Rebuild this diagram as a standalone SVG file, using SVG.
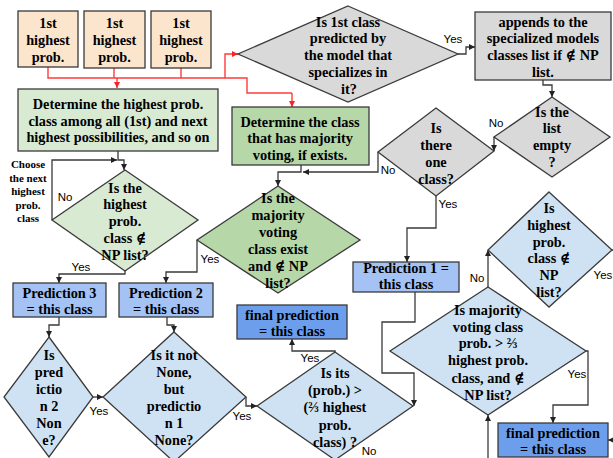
<svg xmlns="http://www.w3.org/2000/svg" width="613" height="458" viewBox="0 0 613 458">
<defs>
<style>
.t{font-family:"Liberation Serif","DejaVu Serif",serif;font-weight:bold;font-size:14.3px;text-anchor:middle;fill:#000}
.s{font-family:"Liberation Serif","DejaVu Serif",serif;font-weight:bold;font-size:11px;text-anchor:middle;fill:#000}
.l{font-family:"Liberation Sans",Arial,sans-serif;font-size:11.5px;text-anchor:middle;fill:#000}
.sh{stroke:#3a3a3a;stroke-width:1.3}
.peach{fill:#fce5cd}
.lg{fill:#d9ead3}
.mg{fill:#b6d7a8}
.gr{fill:#d9d9d9}
.lb{fill:#cfe2f3}
.pb{fill:#a4c2f4}
.fb{fill:#6d9eeb}
.c{fill:none;stroke:#3a3a3a;stroke-width:1.3;marker-end:url(#a)}
.cn{fill:none;stroke:#3a3a3a;stroke-width:1.3}
.r{fill:none;stroke:#ff3b3b;stroke-width:1.4;marker-end:url(#ar)}
.rn{fill:none;stroke:#ff3b3b;stroke-width:1.4}
</style>
<marker id="a" viewBox="0 0 8 8" refX="8" refY="4" markerWidth="6" markerHeight="6" markerUnits="userSpaceOnUse" orient="auto"><path d="M0,0L8,4L0,8z" fill="#222"/></marker>
<marker id="ar" viewBox="0 0 8 8" refX="8" refY="4" markerWidth="6" markerHeight="6" markerUnits="userSpaceOnUse" orient="auto"><path d="M0,0L8,4L0,8z" fill="#ff2020"/></marker>
</defs>
<rect width="613" height="458" fill="#fff"/>

<g id="connectors">
<path class="rn" d="M48,67V78H247V93H292"/>
<path class="r" d="M292,93V107"/>
<path class="rn" d="M114,68V78"/>
<path class="rn" d="M181,68V78"/>
<path class="r" d="M117,78V88"/>
<path class="r" d="M225,78V54H238"/>
<path class="c" d="M458,54H466V47H475"/>
<path class="c" d="M543,80V85H552V97"/>
<path class="c" d="M494,137V151"/>
<path class="c" d="M378,152V172H303"/>
<path class="c" d="M301,165V172H278V186"/>
<path class="c" d="M436,196V228H407V262"/>
<path class="c" d="M52,220V160H117"/>
<path class="c" d="M118,151V160H124V170"/>
<path class="c" d="M125,271V274H59V283"/>
<path class="c" d="M197,240V272H166V283"/>
<path class="c" d="M59,317V325H49V337"/>
<path class="c" d="M167,317V325H174V332"/>
<path class="c" d="M93,397H103"/>
<path class="c" d="M246,397V406H257"/>
<path class="c" d="M335,352V351H292V339"/>
<path class="c" d="M415,292V322H382V373H414V406"/>
<path class="c" d="M488,287V250"/>
<path class="cn" d="M612,250H613"/>
<path class="c" d="M586,351H588V405H553V423"/>
<path class="c" d="M488,458V415"/>
<path class="c" d="M613,440H608"/>
</g>

<g id="n1"><rect class="peach sh" x="18" y="11" width="60" height="56"/><text class="t" x="48" y="28">1st</text><text class="t" x="48" y="45">highest</text><text class="t" x="48" y="62">prob.</text></g>
<g id="n2"><rect class="peach sh" x="84" y="11" width="61" height="57"/><text class="t" x="114.5" y="28">1st</text><text class="t" x="114.5" y="45">highest</text><text class="t" x="114.5" y="62">prob.</text></g>
<g id="n3"><rect class="peach sh" x="151" y="11" width="60" height="57"/><text class="t" x="181" y="28">1st</text><text class="t" x="181" y="45">highest</text><text class="t" x="181" y="62">prob.</text></g>

<g id="specialized"><polygon class="gr sh" points="348,6 458,54 348,102 238,54"/>
<text class="t" x="348" y="27">Is 1st class</text><text class="t" x="348" y="43">predicted by</text><text class="t" x="348" y="60">the model that</text><text class="t" x="348" y="77">specializes in</text><text class="t" x="349" y="94">it?</text></g>

<g id="appends"><rect class="gr sh" x="475" y="12" width="136" height="68"/>
<text class="t" x="543" y="27">appends to the</text><text class="t" x="543" y="43">specialized models</text><text class="t" x="543" y="60">classes list if ∉ NP</text><text class="t" x="543" y="77">list.</text></g>

<g id="listempty"><polygon class="gr sh" points="552,97 610,137 552,177 494,137"/>
<text class="t" x="552" y="117">Is the</text><text class="t" x="552" y="133">list</text><text class="t" x="552" y="150">empty</text><text class="t" x="552" y="167">?</text></g>

<g id="oneclass"><polygon class="gr sh" points="436,108 494,151 436,196 378,152"/>
<text class="t" x="436" y="133">Is</text><text class="t" x="436" y="150">there</text><text class="t" x="436" y="167">one</text><text class="t" x="436" y="184">class?</text></g>

<g id="determine1"><rect class="lg sh" x="18" y="89" width="200" height="62"/>
<text class="t" x="118" y="109">Determine the highest prob.</text><text class="t" x="118" y="126">class among all (1st) and next</text><text class="t" x="118" y="142">highest possibilities, and so on</text></g>

<g id="determine2"><rect class="mg sh" x="232" y="107" width="137" height="58"/>
<text class="t" x="300" y="127">Determine the class</text><text class="t" x="300" y="143">that has majority</text><text class="t" x="300" y="160">voting, if exists.</text></g>

<g id="choose"><text class="s" x="28" y="168">Choose</text><text class="s" x="28" y="182">the next</text><text class="s" x="28" y="195">highest</text><text class="s" x="28" y="209">prob.</text><text class="s" x="28" y="222">class</text></g>

<g id="highestNP"><polygon class="lg sh" points="125,170 198,220 125,271 52,220"/>
<text class="t" x="125" y="193">Is the</text><text class="t" x="125" y="209">highest</text><text class="t" x="125" y="226">prob.</text><text class="t" x="125" y="243">class ∉</text><text class="t" x="125" y="260">NP list?</text></g>

<g id="majorityexist"><polygon class="mg sh" points="278,186 360,240 278,293 197,240"/>
<text class="t" x="278" y="203">Is the</text><text class="t" x="278" y="220">majority</text><text class="t" x="278" y="237">voting</text><text class="t" x="278" y="254">class exist</text><text class="t" x="278" y="271">and ∉ NP</text><text class="t" x="278" y="288">list?</text></g>

<g id="pred3"><rect class="pb sh" x="13" y="283" width="93" height="34"/><text class="t" x="59.5" y="298">Prediction 3</text><text class="t" x="59.5" y="314">= this class</text></g>
<g id="pred2"><rect class="pb sh" x="119" y="283" width="94" height="34"/><text class="t" x="166" y="298">Prediction 2</text><text class="t" x="166" y="314">= this class</text></g>
<g id="pred1"><rect class="pb sh" x="353" y="262" width="106" height="30"/><text class="t" x="406" y="273">Prediction 1 =</text><text class="t" x="406" y="289">this class</text></g>

<g id="final1"><rect class="fb sh" x="237" y="305" width="110" height="34"/><text class="t" x="292" y="320">final prediction</text><text class="t" x="292" y="336">= this class</text></g>

<g id="pred2none"><polygon class="lb sh" points="49,337 93,397 49,457 4,397"/>
<text class="t" x="49" y="360">Is</text><text class="t" x="49" y="377">pred</text><text class="t" x="49" y="394">ictio</text><text class="t" x="49" y="411">n 2</text><text class="t" x="49" y="428">Non</text><text class="t" x="49" y="445">e?</text></g>

<g id="notnone"><polygon class="lb sh" points="174,332 246,397 174,462 103,397"/>
<text class="t" x="174" y="360">Is it not</text><text class="t" x="174" y="377">None,</text><text class="t" x="174" y="394">but</text><text class="t" x="174" y="411">predictio</text><text class="t" x="174" y="428">n 1</text><text class="t" x="174" y="445">None?</text></g>

<g id="isits"><polygon class="lb sh" points="335,352 413,406 335,460 257,406"/>
<text class="t" x="335" y="378">Is its</text><text class="t" x="335" y="395">(prob.) &gt;</text><text class="t" x="335" y="412">(⅔ highest</text><text class="t" x="335" y="430">prob.</text><text class="t" x="335" y="447">class) ?</text></g>

<g id="ishighest"><polygon class="lb sh" points="549,192 612,250 549,307 488,250"/>
<text class="t" x="549" y="213">Is</text><text class="t" x="549" y="230">highest</text><text class="t" x="549" y="247">prob.</text><text class="t" x="549" y="263">class ∉</text><text class="t" x="549" y="280">NP</text><text class="t" x="549" y="297">list?</text></g>

<g id="majorityprob"><polygon class="lb sh" points="488,287 586,351 488,415 390,351"/>
<text class="t" x="488" y="315">Is majority</text><text class="t" x="488" y="332">voting class</text><text class="t" x="488" y="348">prob. &gt; ⅔</text><text class="t" x="488" y="365">highest prob.</text><text class="t" x="488" y="383">class, and ∉</text><text class="t" x="488" y="400">NP list?</text></g>

<g id="final2"><rect class="fb sh" x="498" y="423" width="110" height="34"/><text class="t" x="553" y="438">final prediction</text><text class="t" x="553" y="454">= this class</text></g>

<g id="labels">
<text class="l" x="453" y="43">Yes</text>
<text class="l" x="496" y="127">No</text>
<text class="l" x="388" y="174">No</text>
<text class="l" x="448" y="208">Yes</text>
<text class="l" x="65" y="201">No</text>
<text class="l" x="81" y="271">Yes</text>
<text class="l" x="210" y="263">Yes</text>
<text class="l" x="99" y="415">Yes</text>
<text class="l" x="242" y="420">Yes</text>
<text class="l" x="310" y="362">Yes</text>
<text class="l" x="369" y="455">No</text>
<text class="l" x="477" y="282">No</text>
<text class="l" x="603" y="279">Yes</text>
<text class="l" x="577" y="378">Yes</text>
</g>
</svg>
